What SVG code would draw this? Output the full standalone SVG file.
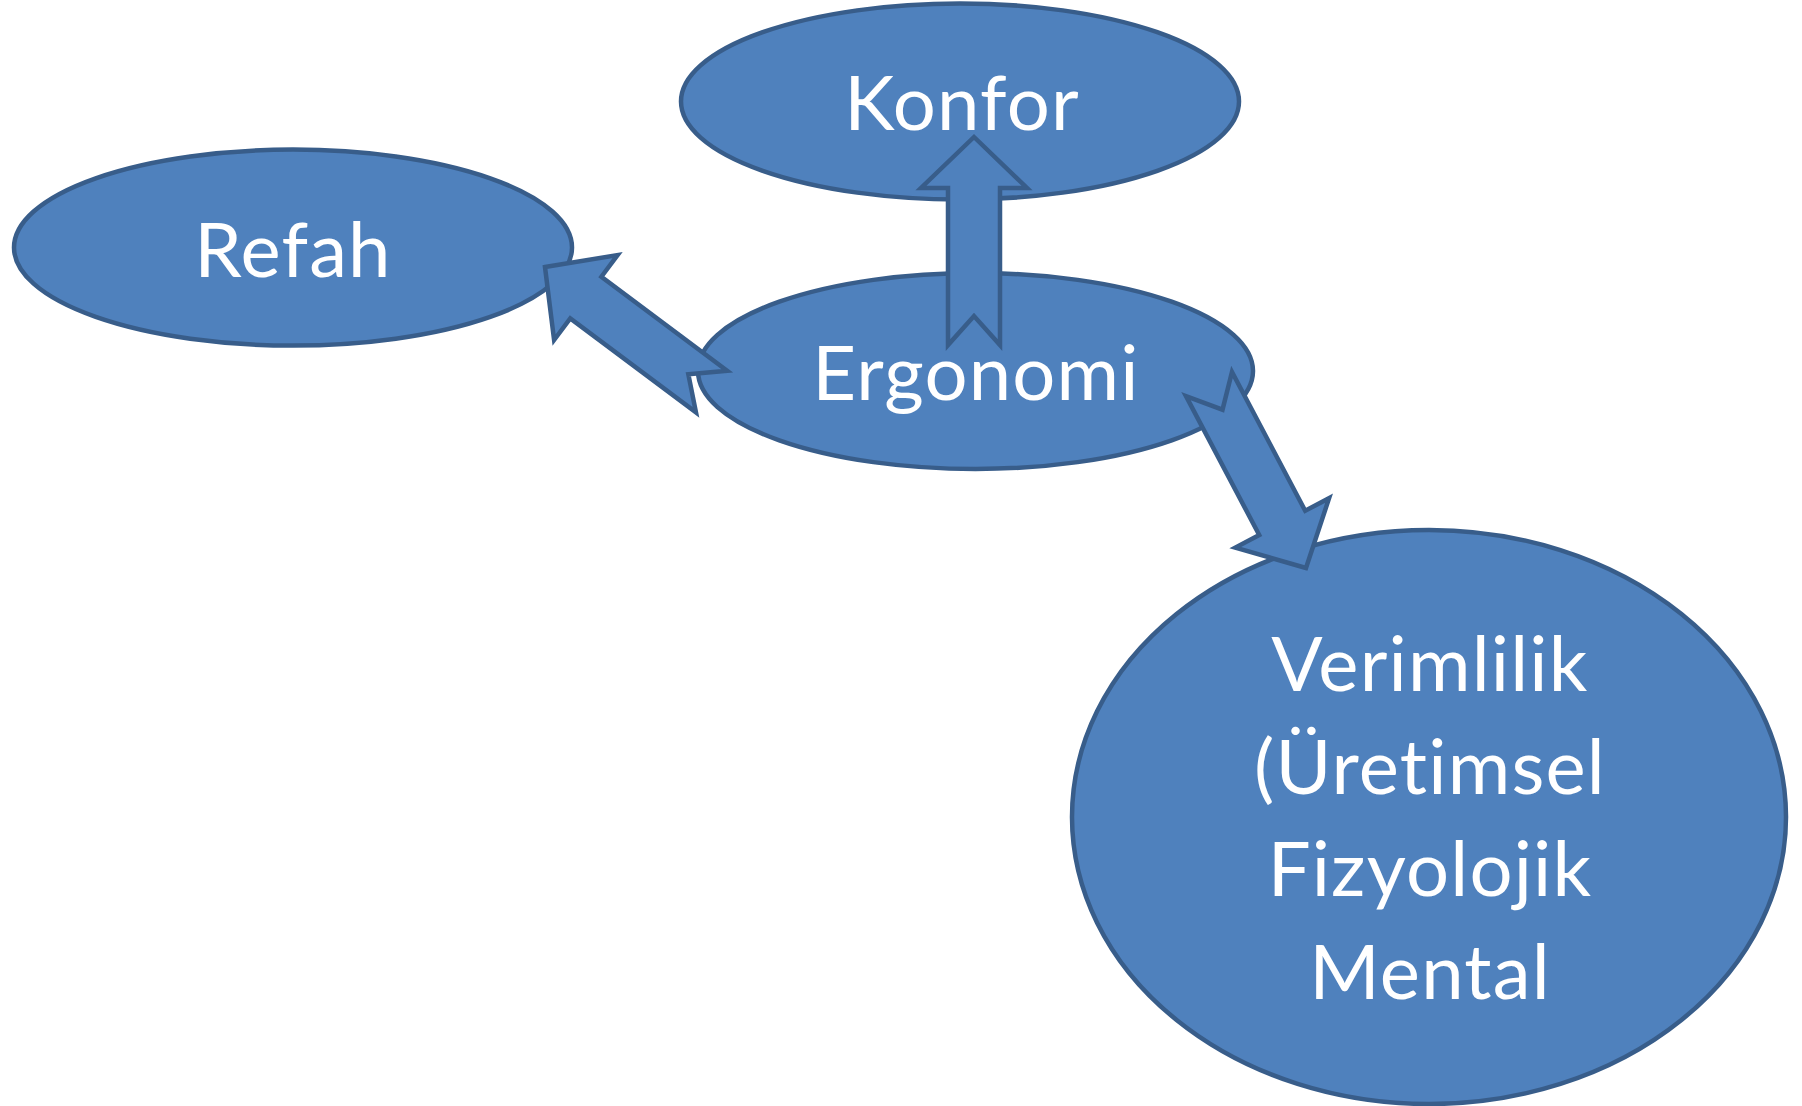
<svg xmlns="http://www.w3.org/2000/svg" width="1802" height="1106" viewBox="0 0 1802 1106">
  <defs>
    <style>
      .node { fill: #4F81BD; stroke: #385D8A; stroke-width: 4.5; }
      .label { fill: #FFFFFF; font-family: Lato, "Open Sans", "Liberation Sans", sans-serif; font-size: 76px; text-anchor: middle; letter-spacing: 1.2px; font-variant-ligatures: none; font-feature-settings: "liga" 0, "clig" 0; }
      .arrow { fill: #4F81BD; stroke: #385D8A; stroke-width: 4.5; stroke-linejoin: miter; }
    </style>
    <path id="blockArrow" d="M0,0 L53,51 L26,51 L26,208 L0,179 L-26,208 L-26,51 L-53,51 Z"/>
  </defs>
  <rect width="1802" height="1106" fill="#FFFFFF"/>
  <g id="node-konfor">
    <ellipse class="node" cx="960" cy="101.5" rx="279" ry="98"/>
    <text class="label" x="962" y="130">Konfor</text>
  </g>
  <g id="node-refah">
    <ellipse class="node" cx="293" cy="247.6" rx="279" ry="98"/>
    <text class="label" x="293" y="277">Refah</text>
  </g>
  <g id="node-ergonomi">
    <ellipse class="node" cx="975.5" cy="371" rx="277.5" ry="98"/>
    <text class="label" x="976" y="399.5">Ergonomi</text>
  </g>
  <g id="node-verimlilik">
    <ellipse class="node" cx="1429" cy="817" rx="357" ry="287"/>
    <text class="label" x="1430" y="691">Verimlilik</text>
    <text class="label" x="1430" y="793.5">(Üretimsel</text>
    <text class="label" x="1430" y="896">Fizyolojik</text>
    <text class="label" x="1430" y="998.5">Mental</text>
  </g>
  <g id="connectors">
    <use href="#blockArrow" class="arrow" transform="translate(974,137)"/>
    <use href="#blockArrow" class="arrow" transform="translate(545,267) rotate(-53.2)"/>
    <use href="#blockArrow" class="arrow" transform="translate(1306,568) rotate(152.2)"/>
  </g>
</svg>
